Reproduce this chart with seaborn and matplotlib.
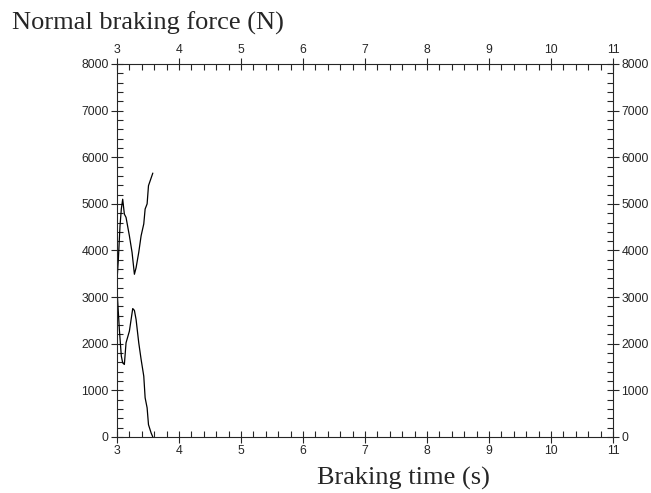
import matplotlib
matplotlib.use("Agg")
import matplotlib.pyplot as plt
from matplotlib.ticker import MultipleLocator
import seaborn as sns
import pandas as pd

# upper branch (force rising after the dip)
t_upper = [3.0, 3.022, 3.049, 3.07, 3.092, 3.119, 3.146, 3.2, 3.243, 3.281,
           3.308, 3.351, 3.389, 3.432, 3.454, 3.486, 3.508, 3.578]
f_upper = [3350, 3810, 4530, 4890, 5100, 4780, 4710, 4315, 3960, 3490,
           3630, 3960, 4315, 4570, 4890, 5000, 5390, 5660]

# lower branch (force dropping to zero)
t_lower = [3.0, 3.038, 3.07, 3.092, 3.119, 3.146, 3.2, 3.254, 3.281, 3.308,
           3.351, 3.389, 3.432, 3.454, 3.486, 3.508, 3.551, 3.578]
f_lower = [3170, 2310, 1735, 1590, 1555, 2020, 2270, 2755, 2715, 2520,
           2020, 1665, 1305, 840, 625, 265, 85, 0]

sns.set_style("ticks")
plt.rcParams["font.family"] = ["Liberation Sans", "DejaVu Sans"]

fig = plt.figure(figsize=(6.51, 4.93), dpi=100)
ax = fig.add_axes([0.1797, 0.1136, 0.7619, 0.7566])

up = pd.DataFrame({"t": t_upper, "f": f_upper})
lo = pd.DataFrame({"t": t_lower, "f": f_lower})
sns.lineplot(data=up, x="t", y="f", color="black", linewidth=0.9, sort=False, ax=ax)
sns.lineplot(data=lo, x="t", y="f", color="black", linewidth=0.9, sort=False, ax=ax)

ax.set_xlim(3, 11)
ax.set_ylim(0, 8000)
ax.xaxis.set_major_locator(MultipleLocator(1))
ax.xaxis.set_minor_locator(MultipleLocator(0.2))
ax.yaxis.set_major_locator(MultipleLocator(1000))
ax.yaxis.set_minor_locator(MultipleLocator(200))

# major ticks cross the frame, minor ones point inward
ax.tick_params(which="major", direction="inout", length=8, width=0.8,
               labelsize=8.8, top=True, right=True,
               labeltop=True, labelright=True, pad=2)
ax.tick_params(which="minor", direction="in", length=4, width=0.8,
               top=True, right=True)
for s in ax.spines.values():
    s.set_linewidth(0.8)
    s.set_visible(True)

ax.set_xlabel("")
ax.set_ylabel("")
fig.text(0.018, 0.941, "Normal braking force (N)", family="Liberation Serif",
         fontsize=19, ha="left", va="baseline")
fig.text(0.62, 0.018, "Braking time (s)", family="Liberation Serif",
         fontsize=19, ha="center", va="baseline")

fig.savefig("out.png", dpi=100)
